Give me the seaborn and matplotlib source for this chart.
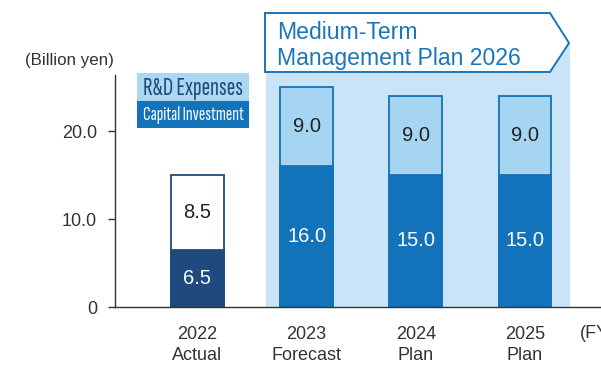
import matplotlib
matplotlib.use("Agg")
import matplotlib.pyplot as plt
from matplotlib import font_manager
from matplotlib.patches import Rectangle, Polygon
import pandas as pd
import seaborn as sns

# Fiscal years and values (billion yen)
years = ["2022\nActual", "2023\nForecast", "2024\nPlan", "2025\nPlan"]
capital_investment = [6.5, 16.0, 15.0, 15.0]
rd_expenses = [8.5, 9.0, 9.0, 9.0]
y_ticks = [0, 10, 20]
y_tick_labels = ["0", "10.0", "20.0"]

df = pd.DataFrame({
    "year": years,
    "capital": capital_investment,
    "rd": rd_expenses,
})
df["total"] = df["capital"] + df["rd"]

NAVY = "#1f4a7e"
BLUE = "#1273bb"
LIGHT = "#a5d5f1"
SHADE = "#c8e4f6"
TEXT = "#333333"

sns.set_style("white")
plt.rcParams["font.family"] = ["Liberation Sans", "DejaVu Sans"]

names = {f.name for f in font_manager.fontManager.ttflist}
NARROW = next((n for n in ["Sofia Sans Extra Condensed", "Roboto Condensed",
                           "Sofia Sans Condensed", "Sofia Sans Semi Condensed",
                           "Liberation Sans Narrow"]
               if n in names), "Liberation Sans")

W, H = 601, 365
fig = plt.figure(figsize=(W / 100, H / 100), dpi=100)
ax = fig.add_axes([115 / W, 58 / H, 485 / W, 232 / H])

# Mid-term plan period background
ax.add_patch(Rectangle((0.627, 0), 3.41 - 0.627, 30.1, facecolor=SHADE,
                       edgecolor="none", zorder=0, clip_on=False))

bar_w = 0.485
rd_face = ["white", LIGHT, LIGHT, LIGHT]
rd_edge = [NAVY, BLUE, BLUE, BLUE]
cap_face = [NAVY, BLUE, BLUE, BLUE]

sns.barplot(data=df, x="year", y="total", hue="year", palette=rd_face,
            width=bar_w, saturation=1, legend=False, ax=ax, zorder=2)
rd_bars = [b for c in ax.containers for b in c]
for b, ec in zip(rd_bars, rd_edge):
    b.set_edgecolor(ec)
    b.set_linewidth(1.3)

n_before = len(ax.containers)
sns.barplot(data=df, x="year", y="capital", hue="year", palette=cap_face,
            width=bar_w, saturation=1, legend=False, ax=ax, zorder=3)
cap_bars = [b for c in ax.containers[n_before:] for b in c]
for b, fc in zip(cap_bars, cap_face):
    b.set_edgecolor(fc)
    b.set_linewidth(1.3)

ymax = 232 / 8.8
ax.set_ylim(0, ymax)
ax.set_xlim(-0.755, 3.687)

# Value labels
for i, (cap, rd) in enumerate(zip(capital_investment, rd_expenses)):
    ax.text(i, cap / 2, f"{cap:.1f}", ha="center", va="center",
            color="white", fontsize=14.5, zorder=5)
    ax.text(i, cap + rd / 2, f"{rd:.1f}", ha="center", va="center",
            color="#222222", fontsize=14.5, zorder=5)

ax.set_xlabel("")
ax.set_ylabel("")
ax.set_yticks(y_ticks)
ax.set_yticklabels(y_tick_labels)
ax.tick_params(axis="y", length=5, width=1, pad=8, labelsize=13,
               colors=TEXT, direction="out", left=True)
ax.tick_params(axis="x", length=0, pad=14, labelsize=13, colors=TEXT)
for lab in ax.get_xticklabels():
    lab.set_linespacing(1.25)

for s in ["top", "right"]:
    ax.spines[s].set_visible(False)
for s in ["left", "bottom"]:
    ax.spines[s].set_color(TEXT)
    ax.spines[s].set_linewidth(1.0)
    ax.spines[s].set_zorder(6)

# Unit and fiscal year labels
fig.text(69 / W, 1 - 60 / H, "(Billion yen)", ha="center", va="center",
         fontsize=12.2, color=TEXT)
fig.text(580 / W, 1 - 334 / H, "(FY)", ha="left", va="center",
         fontsize=13, color=TEXT)


def fx(px):
    return px / W


def fy(py):
    return 1 - py / H


# Plan title arrow box
box = Polygon([(fx(265), fy(13)), (fx(550), fy(13)), (fx(569), fy(43)),
               (fx(550), fy(72)), (fx(265), fy(72))], closed=True,
              transform=fig.transFigure, facecolor="white",
              edgecolor="#1a75bb", linewidth=1.4, zorder=10)
fig.patches.append(box)
fig.text(fx(277), fy(39), "Medium-Term", ha="left", va="baseline",
         fontsize=16.6, color="#1a75bb", zorder=11)
fig.text(fx(277), fy(65), "Management Plan 2026", ha="left", va="baseline",
         fontsize=16.6, color="#1a75bb", zorder=11)

# Legend swatches
fig.patches.append(Rectangle((fx(137), fy(101)), fx(249) - fx(137), fy(73) - fy(101),
                             transform=fig.transFigure, facecolor="#a8d8f2",
                             edgecolor="none", zorder=10))
fig.patches.append(Rectangle((fx(137), fy(128)), fx(249) - fx(137), fy(101) - fy(128),
                             transform=fig.transFigure, facecolor=BLUE,
                             edgecolor="none", zorder=10))
t_rd = fig.text(fx(193), fy(88), "R&D Expenses", ha="center", va="center",
                fontsize=14, color=NAVY, family=NARROW, zorder=11)
t_ci = fig.text(fx(193), fy(115), "Capital Investment", ha="center", va="center",
                fontsize=14, color="white", family=NARROW, zorder=11)

# Size the legend labels to fill their swatches
renderer = fig.canvas.get_renderer()
for t, target in [(t_rd, 104), (t_ci, 101)]:
    w = t.get_window_extent(renderer).width
    t.set_fontsize(min(14 * target / w, 18.5))

fig.savefig("out.png", dpi=100)
